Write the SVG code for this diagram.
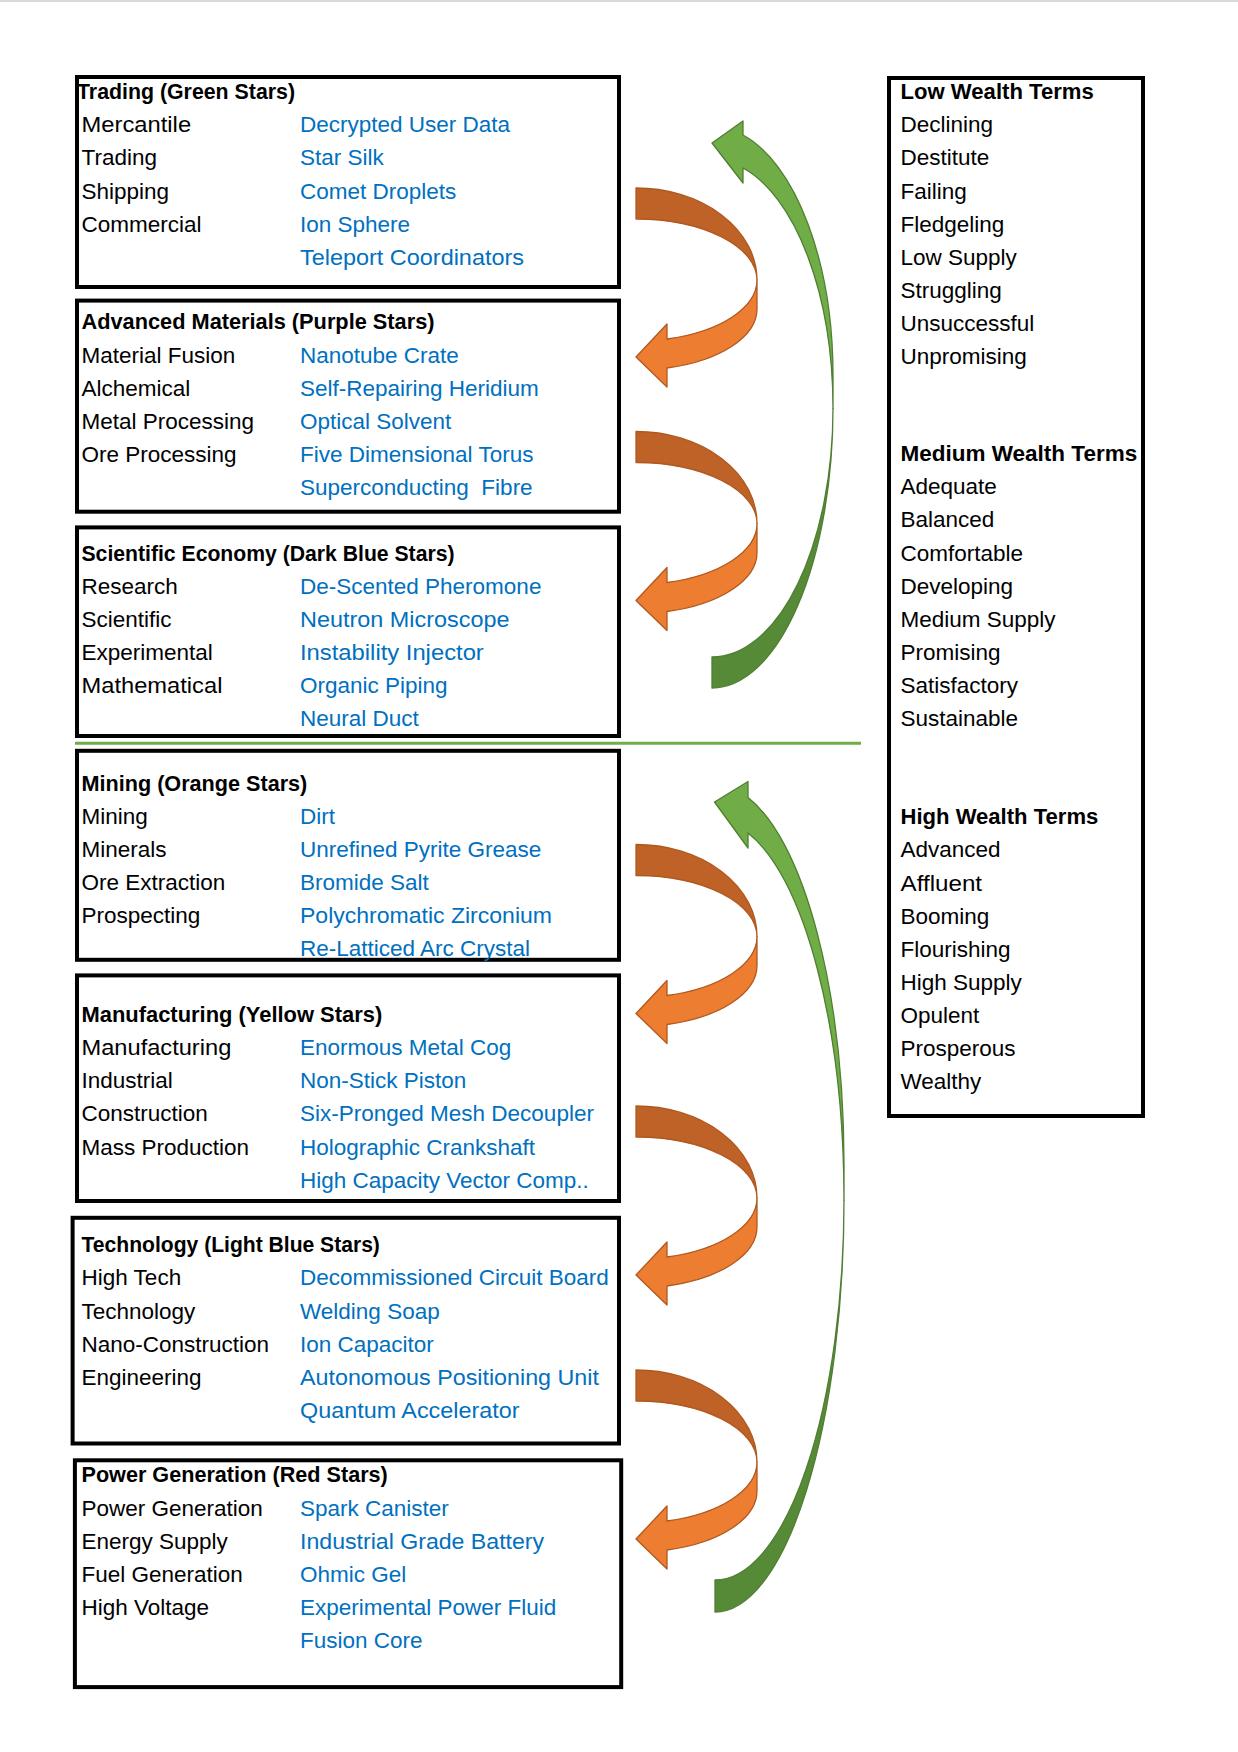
<svg xmlns="http://www.w3.org/2000/svg" width="1238" height="1752" viewBox="0 0 1238 1752">
<style>
.bx{fill:none;stroke:#000;stroke-width:4}
text{font-family:"Liberation Sans",Arial,sans-serif;font-size:22.5px;fill:#000}
.h{font-weight:bold}
.b{fill:#0070C0}
.od{fill:#BE6227;stroke:#B0591F;stroke-width:1.3;stroke-linejoin:round}
.ol{fill:#ED7D31;stroke:#B0591F;stroke-width:1.3;stroke-linejoin:round}
.gd{fill:#568A37;stroke:#507E32;stroke-width:1.3;stroke-linejoin:round}
.gl{fill:#70AD47;stroke:#507E32;stroke-width:1.3;stroke-linejoin:round}
</style>
<defs>
<g id="oarrow">
<path class="od" d="M0,0 A121,92 0 0 1 121,92 A121,61 0 0 0 0,31 Z"/>
<path class="ol" d="M121,92 A121,61 0 0 1 31,151 L31,136 L0,169 L31,199 L31,180 A121,61 0 0 0 121,121 Z"/>
</g>
</defs>
<rect x="0" y="0" width="1238" height="2" fill="#d9d9d9"/>

<g id="connectors">
<use href="#oarrow" transform="translate(636,188)"/>
<use href="#oarrow" transform="translate(636,431.5)"/>
<use href="#oarrow" transform="translate(636,844.5)"/>
<use href="#oarrow" transform="translate(636,1106)"/>
<use href="#oarrow" transform="translate(636,1370)"/>
<g id="green1">
<path class="gd" d="M712,688 A121,279.6 0 0 0 833,408.4 A121,248.6 0 0 1 712,657 Z"/>
<path class="gl" d="M833,408.4 A121,248.6 0 0 0 743,168 L743,183 L712,143 L743,121 L743,135 A121,248.6 0 0 1 833,375.3 Z"/>
</g>
<g id="green2">
<path class="gd" d="M715,1612 A129,411.8 0 0 0 844,1200.2 A129,379.8 0 0 1 715,1580 Z"/>
<path class="gl" d="M844,1200.2 A129,379.8 0 0 0 748,833 L748,848 L714.5,802 L748,781.5 L748,797.6 A129,379.8 0 0 1 844,1164.8 Z"/>
</g>
<line x1="75" y1="743.3" x2="861" y2="743.3" stroke="#70AD47" stroke-width="3"/>
</g>

<g id="trading">
<rect class="bx" x="77" y="77" width="542" height="210"/>
<text class="h" x="77" y="99.2" textLength="218" lengthAdjust="spacingAndGlyphs">Trading (Green Stars)</text>
<text x="81.5" y="132.3" textLength="109.6" lengthAdjust="spacingAndGlyphs">Mercantile</text><text class="b" x="300" y="132.3">Decrypted User Data</text>
<text x="81.5" y="165.4">Trading</text><text class="b" x="300" y="165.4">Star Silk</text>
<text x="81.5" y="198.5">Shipping</text><text class="b" x="300" y="198.5">Comet Droplets</text>
<text x="81.5" y="231.6">Commercial</text><text class="b" x="300" y="231.6">Ion Sphere</text>
<text class="b" x="300" y="264.7" textLength="224" lengthAdjust="spacingAndGlyphs">Teleport Coordinators</text>
</g>

<g id="advanced-materials">
<rect class="bx" x="77" y="300.6" width="542" height="211.1"/>
<text class="h" x="81.5" y="329.4" textLength="353" lengthAdjust="spacingAndGlyphs">Advanced Materials (Purple Stars)</text>
<text x="81.5" y="362.5">Material Fusion</text><text class="b" x="300" y="362.5">Nanotube Crate</text>
<text x="81.5" y="395.6">Alchemical</text><text class="b" x="300" y="395.6">Self-Repairing Heridium</text>
<text x="81.5" y="428.7">Metal Processing</text><text class="b" x="300" y="428.7">Optical Solvent</text>
<text x="81.5" y="461.8">Ore Processing</text><text class="b" x="300" y="461.8">Five Dimensional Torus</text>
<text class="b" x="300" y="494.9">Superconducting&#160; Fibre</text>
</g>

<g id="scientific-economy">
<rect class="bx" x="77" y="527.4" width="542" height="208.6"/>
<text class="h" x="81.5" y="560.7" textLength="373" lengthAdjust="spacingAndGlyphs">Scientific Economy (Dark Blue Stars)</text>
<text x="81.5" y="593.8">Research</text><text class="b" x="300" y="593.8">De-Scented Pheromone</text>
<text x="81.5" y="626.9">Scientific</text><text class="b" x="300" y="626.9" textLength="209.5" lengthAdjust="spacingAndGlyphs">Neutron Microscope</text>
<text x="81.5" y="660">Experimental</text><text class="b" x="300" y="660" textLength="183.8" lengthAdjust="spacingAndGlyphs">Instability Injector</text>
<text x="81.5" y="693.1" textLength="140.9" lengthAdjust="spacingAndGlyphs">Mathematical</text><text class="b" x="300" y="693.1">Organic Piping</text>
<text class="b" x="300" y="726.2">Neural Duct</text>
</g>

<g id="mining">
<rect class="bx" x="77" y="750.8" width="542" height="209"/>
<text class="h" x="81.5" y="790.8" textLength="225.8" lengthAdjust="spacingAndGlyphs">Mining (Orange Stars)</text>
<text x="81.5" y="823.9">Mining</text><text class="b" x="300" y="823.9">Dirt</text>
<text x="81.5" y="857">Minerals</text><text class="b" x="300" y="857">Unrefined Pyrite Grease</text>
<text x="81.5" y="890.1">Ore Extraction</text><text class="b" x="300" y="890.1">Bromide Salt</text>
<text x="81.5" y="923.2">Prospecting</text><text class="b" x="300" y="923.2" textLength="252" lengthAdjust="spacingAndGlyphs">Polychromatic Zirconium</text>
<text class="b" x="300" y="956.3">Re-Latticed Arc Crystal</text>
</g>

<g id="manufacturing">
<rect class="bx" x="77" y="975.4" width="542" height="225.6"/>
<text class="h" x="81.5" y="1022.1" textLength="300.7" lengthAdjust="spacingAndGlyphs">Manufacturing (Yellow Stars)</text>
<text x="81.5" y="1055.2" textLength="149.8" lengthAdjust="spacingAndGlyphs">Manufacturing</text><text class="b" x="300" y="1055.2">Enormous Metal Cog</text>
<text x="81.5" y="1088.3">Industrial</text><text class="b" x="300" y="1088.3">Non-Stick Piston</text>
<text x="81.5" y="1121.4">Construction</text><text class="b" x="300" y="1121.4">Six-Pronged Mesh Decoupler</text>
<text x="81.5" y="1154.5">Mass Production</text><text class="b" x="300" y="1154.5">Holographic Crankshaft</text>
<text class="b" x="300" y="1187.6">High Capacity Vector Comp..</text>
</g>

<g id="technology">
<rect class="bx" x="72.6" y="1217.8" width="546.4" height="225.7"/>
<text class="h" x="81.5" y="1252.3" textLength="298.4" lengthAdjust="spacingAndGlyphs">Technology (Light Blue Stars)</text>
<text x="81.5" y="1285.4">High Tech</text><text class="b" x="300" y="1285.4">Decommissioned Circuit Board</text>
<text x="81.5" y="1318.5">Technology</text><text class="b" x="300" y="1318.5">Welding Soap</text>
<text x="81.5" y="1351.6">Nano-Construction</text><text class="b" x="300" y="1351.6">Ion Capacitor</text>
<text x="81.5" y="1384.7">Engineering</text><text class="b" x="300" y="1384.7" textLength="298.9" lengthAdjust="spacingAndGlyphs">Autonomous Positioning Unit</text>
<text class="b" x="300" y="1417.8" textLength="219.5" lengthAdjust="spacingAndGlyphs">Quantum Accelerator</text>
</g>

<g id="power-generation">
<rect class="bx" x="74.9" y="1460.3" width="546.3" height="226.8"/>
<text class="h" x="81.5" y="1482.4" textLength="306.3" lengthAdjust="spacingAndGlyphs">Power Generation (Red Stars)</text>
<text x="81.5" y="1515.5">Power Generation</text><text class="b" x="300" y="1515.5">Spark Canister</text>
<text x="81.5" y="1548.6">Energy Supply</text><text class="b" x="300" y="1548.6" textLength="244.1" lengthAdjust="spacingAndGlyphs">Industrial Grade Battery</text>
<text x="81.5" y="1581.7">Fuel Generation</text><text class="b" x="300" y="1581.7">Ohmic Gel</text>
<text x="81.5" y="1614.8">High Voltage</text><text class="b" x="300" y="1614.8">Experimental Power Fluid</text>
<text class="b" x="300" y="1647.9">Fusion Core</text>
</g>

<g id="wealth-terms">
<rect class="bx" x="889" y="78" width="254" height="1038"/>
<text class="h" x="900.5" y="99.2" textLength="193.3" lengthAdjust="spacingAndGlyphs">Low Wealth Terms</text>
<text x="900.5" y="132.3">Declining</text>
<text x="900.5" y="165.4">Destitute</text>
<text x="900.5" y="198.5">Failing</text>
<text x="900.5" y="231.6">Fledgeling</text>
<text x="900.5" y="264.7">Low Supply</text>
<text x="900.5" y="297.8">Struggling</text>
<text x="900.5" y="330.9">Unsuccessful</text>
<text x="900.5" y="364">Unpromising</text>
<text class="h" x="900.5" y="461.2">Medium Wealth Terms</text>
<text x="900.5" y="494.3">Adequate</text>
<text x="900.5" y="527.4">Balanced</text>
<text x="900.5" y="560.5">Comfortable</text>
<text x="900.5" y="593.6">Developing</text>
<text x="900.5" y="626.7">Medium Supply</text>
<text x="900.5" y="659.8">Promising</text>
<text x="900.5" y="692.9">Satisfactory</text>
<text x="900.5" y="726">Sustainable</text>
<text class="h" x="900.5" y="824.3" textLength="197.8" lengthAdjust="spacingAndGlyphs">High Wealth Terms</text>
<text x="900.5" y="857.4">Advanced</text>
<text x="900.5" y="890.5" textLength="81.6" lengthAdjust="spacingAndGlyphs">Affluent</text>
<text x="900.5" y="923.6">Booming</text>
<text x="900.5" y="956.7">Flourishing</text>
<text x="900.5" y="989.8">High Supply</text>
<text x="900.5" y="1022.9">Opulent</text>
<text x="900.5" y="1056">Prosperous</text>
<text x="900.5" y="1089.1">Wealthy</text>
</g>
</svg>
